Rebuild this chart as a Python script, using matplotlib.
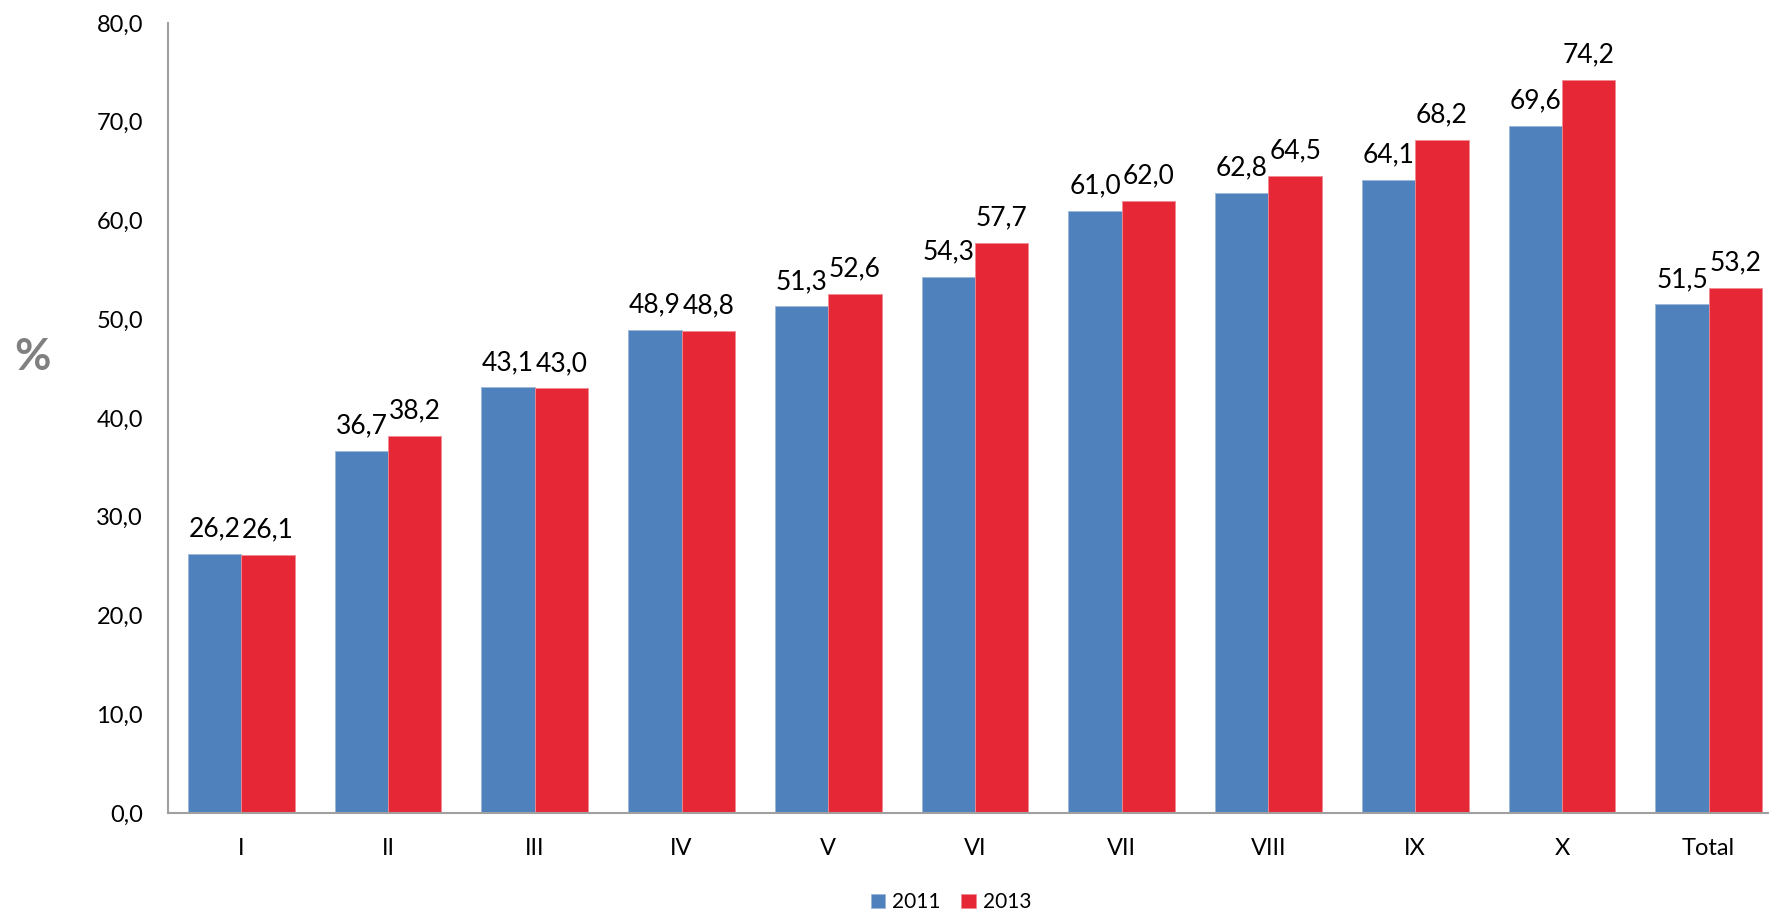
import numpy as np
import matplotlib.pyplot as plt

categories = ['I', 'II', 'III', 'IV', 'V', 'VI', 'VII', 'VIII', 'IX', 'X', 'Total']
vals_2011 = [26.2, 36.7, 43.1, 48.9, 51.3, 54.3, 61.0, 62.8, 64.1, 69.6, 51.5]
vals_2013 = [26.1, 38.2, 43.0, 48.8, 52.6, 57.7, 62.0, 64.5, 68.2, 74.2, 53.2]
yticks = [0, 10, 20, 30, 40, 50, 60, 70, 80]

plt.rcParams['font.family'] = ['Lato', 'DejaVu Sans']

blue = '#4F81BD'
red = '#E52736'
W, H = 1769, 914

fig = plt.figure(figsize=(W / 100, H / 100), dpi=100)
ax = fig.add_axes([168 / W, (H - 813) / H, (W - 168) / W, (813 - 23) / H])

x = np.arange(len(categories))
bw = 0.3636
b1 = ax.bar(x - bw / 2, vals_2011, bw, color=blue, edgecolor='#9DB7D8', linewidth=0.6, label='2011')
b2 = ax.bar(x + bw / 2, vals_2013, bw, color=red, edgecolor='#F08A92', linewidth=0.6, label='2013')

for bars, vals in ((b1, vals_2011), (b2, vals_2013)):
    for r, v in zip(bars, vals):
        ax.annotate(f'{v:.1f}'.replace('.', ','),
                    (r.get_x() + r.get_width() / 2, r.get_height()),
                    xytext=(0, 9), textcoords='offset points',
                    ha='center', va='bottom', fontsize=19)

ax.set_xlim(-0.5, (W - 241.7) / 146.7)
ax.set_ylim(0, 80)
ax.set_xticks(x)
ax.set_xticklabels(categories, fontsize=17)
ax.set_yticks(yticks)
ax.set_yticklabels([f'{t:.1f}'.replace('.', ',') for t in yticks], fontsize=17)
ax.tick_params(axis='both', length=0)
ax.tick_params(axis='y', pad=18)
ax.tick_params(axis='x', pad=18)

for s in ['top', 'right']:
    ax.spines[s].set_visible(False)
for s in ['left', 'bottom']:
    ax.spines[s].set_color('#A0A0A0')
    ax.spines[s].set_linewidth(1.5)

fig.text(32 / W, 1 - 357 / H, '%', fontsize=32, fontweight='bold', color='#808080',
         ha='center', va='center')

fig.legend(handles=[b1, b2], loc='center', bbox_to_anchor=(951 / W, 1 - 902 / H),
           ncol=2, frameon=False, fontsize=15, handlelength=0.68, handleheight=0.68,
           handletextpad=0.35, columnspacing=1.0)

fig.savefig('out.png', dpi=100)
